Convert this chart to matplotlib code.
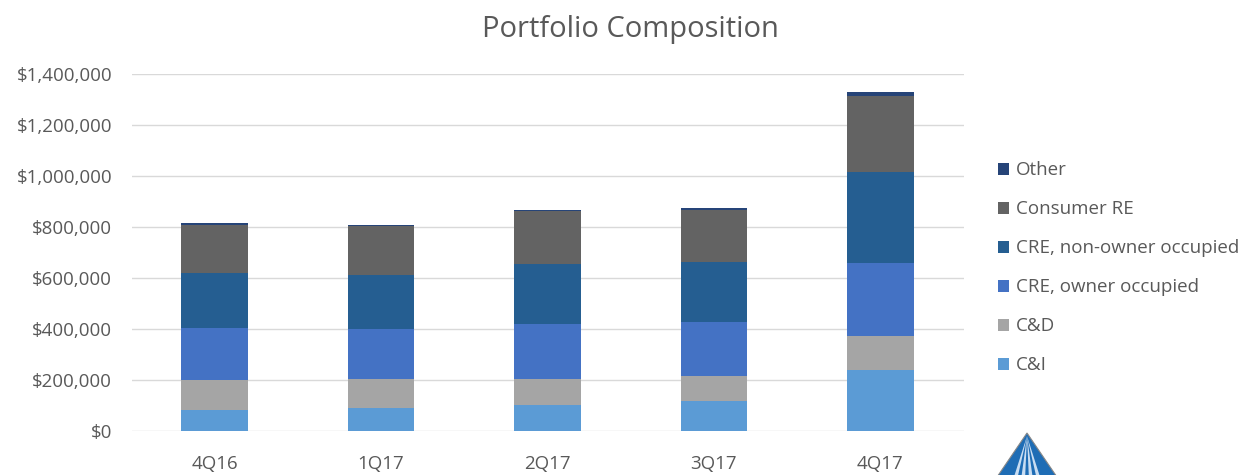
import matplotlib
matplotlib.use("Agg")
import matplotlib.pyplot as plt
from matplotlib.patches import Polygon
from matplotlib.ticker import FuncFormatter

categories = ["4Q16", "1Q17", "2Q17", "3Q17", "4Q17"]
c_and_i = [82000, 89000, 102000, 118000, 239000]
c_and_d = [118000, 114000, 101000, 98000, 134000]
cre_owner = [203000, 196000, 215000, 213000, 285000]
cre_non_owner = [215000, 213000, 236000, 235000, 359000]
consumer_re = [191000, 191000, 208000, 204000, 298000]
other = [5000, 5000, 5000, 5000, 12000]

series = [
    ("C&I", c_and_i, "#5B9BD5"),
    ("C&D", c_and_d, "#A5A5A5"),
    ("CRE, owner occupied", cre_owner, "#4472C4"),
    ("CRE, non-owner occupied", cre_non_owner, "#255E91"),
    ("Consumer RE", consumer_re, "#636363"),
    ("Other", other, "#264478"),
]

plt.rcParams['font.family'] = ['Open Sans', 'DejaVu Sans']
fig = plt.figure(figsize=(12.53, 4.75), dpi=100)
ax = fig.add_axes([0.105, 0.0926, 0.664, 0.752])

x = list(range(len(categories)))
bottom = [0] * len(categories)
handles = []
for name, vals, col in series:
    b = ax.bar(x, vals, width=0.40, bottom=bottom, color=col, label=name, zorder=3)
    handles.append(b)
    bottom = [bb + v for bb, v in zip(bottom, vals)]

ax.set_xlim(-0.5, 4.5)
ax.set_ylim(0, 1400000)
ax.set_yticks(range(0, 1400001, 200000))
ax.yaxis.set_major_formatter(FuncFormatter(lambda v, p: "${:,.0f}".format(v)))
ax.set_xticks(x)
ax.set_xticklabels(categories)
ax.grid(axis='y', color='#D9D9D9', linewidth=1, zorder=0)
for s in ax.spines.values():
    s.set_visible(False)
ax.tick_params(axis='both', length=0, colors='#595959', labelsize=13.5)
ax.tick_params(axis='y', pad=14)
ax.tick_params(axis='x', pad=17)

fig.suptitle("Portfolio Composition", x=0.503, y=0.968, fontsize=21, color='#595959')

leg = fig.legend(handles[::-1], [s[0] for s in series][::-1], loc='upper left',
                 bbox_to_anchor=(0.783, 0.696), frameon=False, fontsize=13.5,
                 labelspacing=1.12, handlelength=0.6, handleheight=0.6, handletextpad=0.35)
for t in leg.get_texts():
    t.set_color('#595959')

# partial logo at bottom right
W, H = 1253, 475
def fx(px):
    return px / W
def fy(py):
    return 1 - py / H
tri = Polygon([(fx(995), fy(480)), (fx(1027), fy(433)), (fx(1059), fy(480))],
              closed=True, transform=fig.transFigure, facecolor='#1F6DB5', edgecolor='#888888', linewidth=0.8)
fig.patches.append(tri)
for dx in (-12, -4, 4, 12):
    stripe = Polygon([(fx(1027), fy(436)), (fx(1027 + dx - 2), fy(480)), (fx(1027 + dx + 2), fy(480))],
                     closed=True, transform=fig.transFigure, facecolor='#C9DDF2', edgecolor='none')
    fig.patches.append(stripe)

fig.savefig("out.png", dpi=100, facecolor='white')
